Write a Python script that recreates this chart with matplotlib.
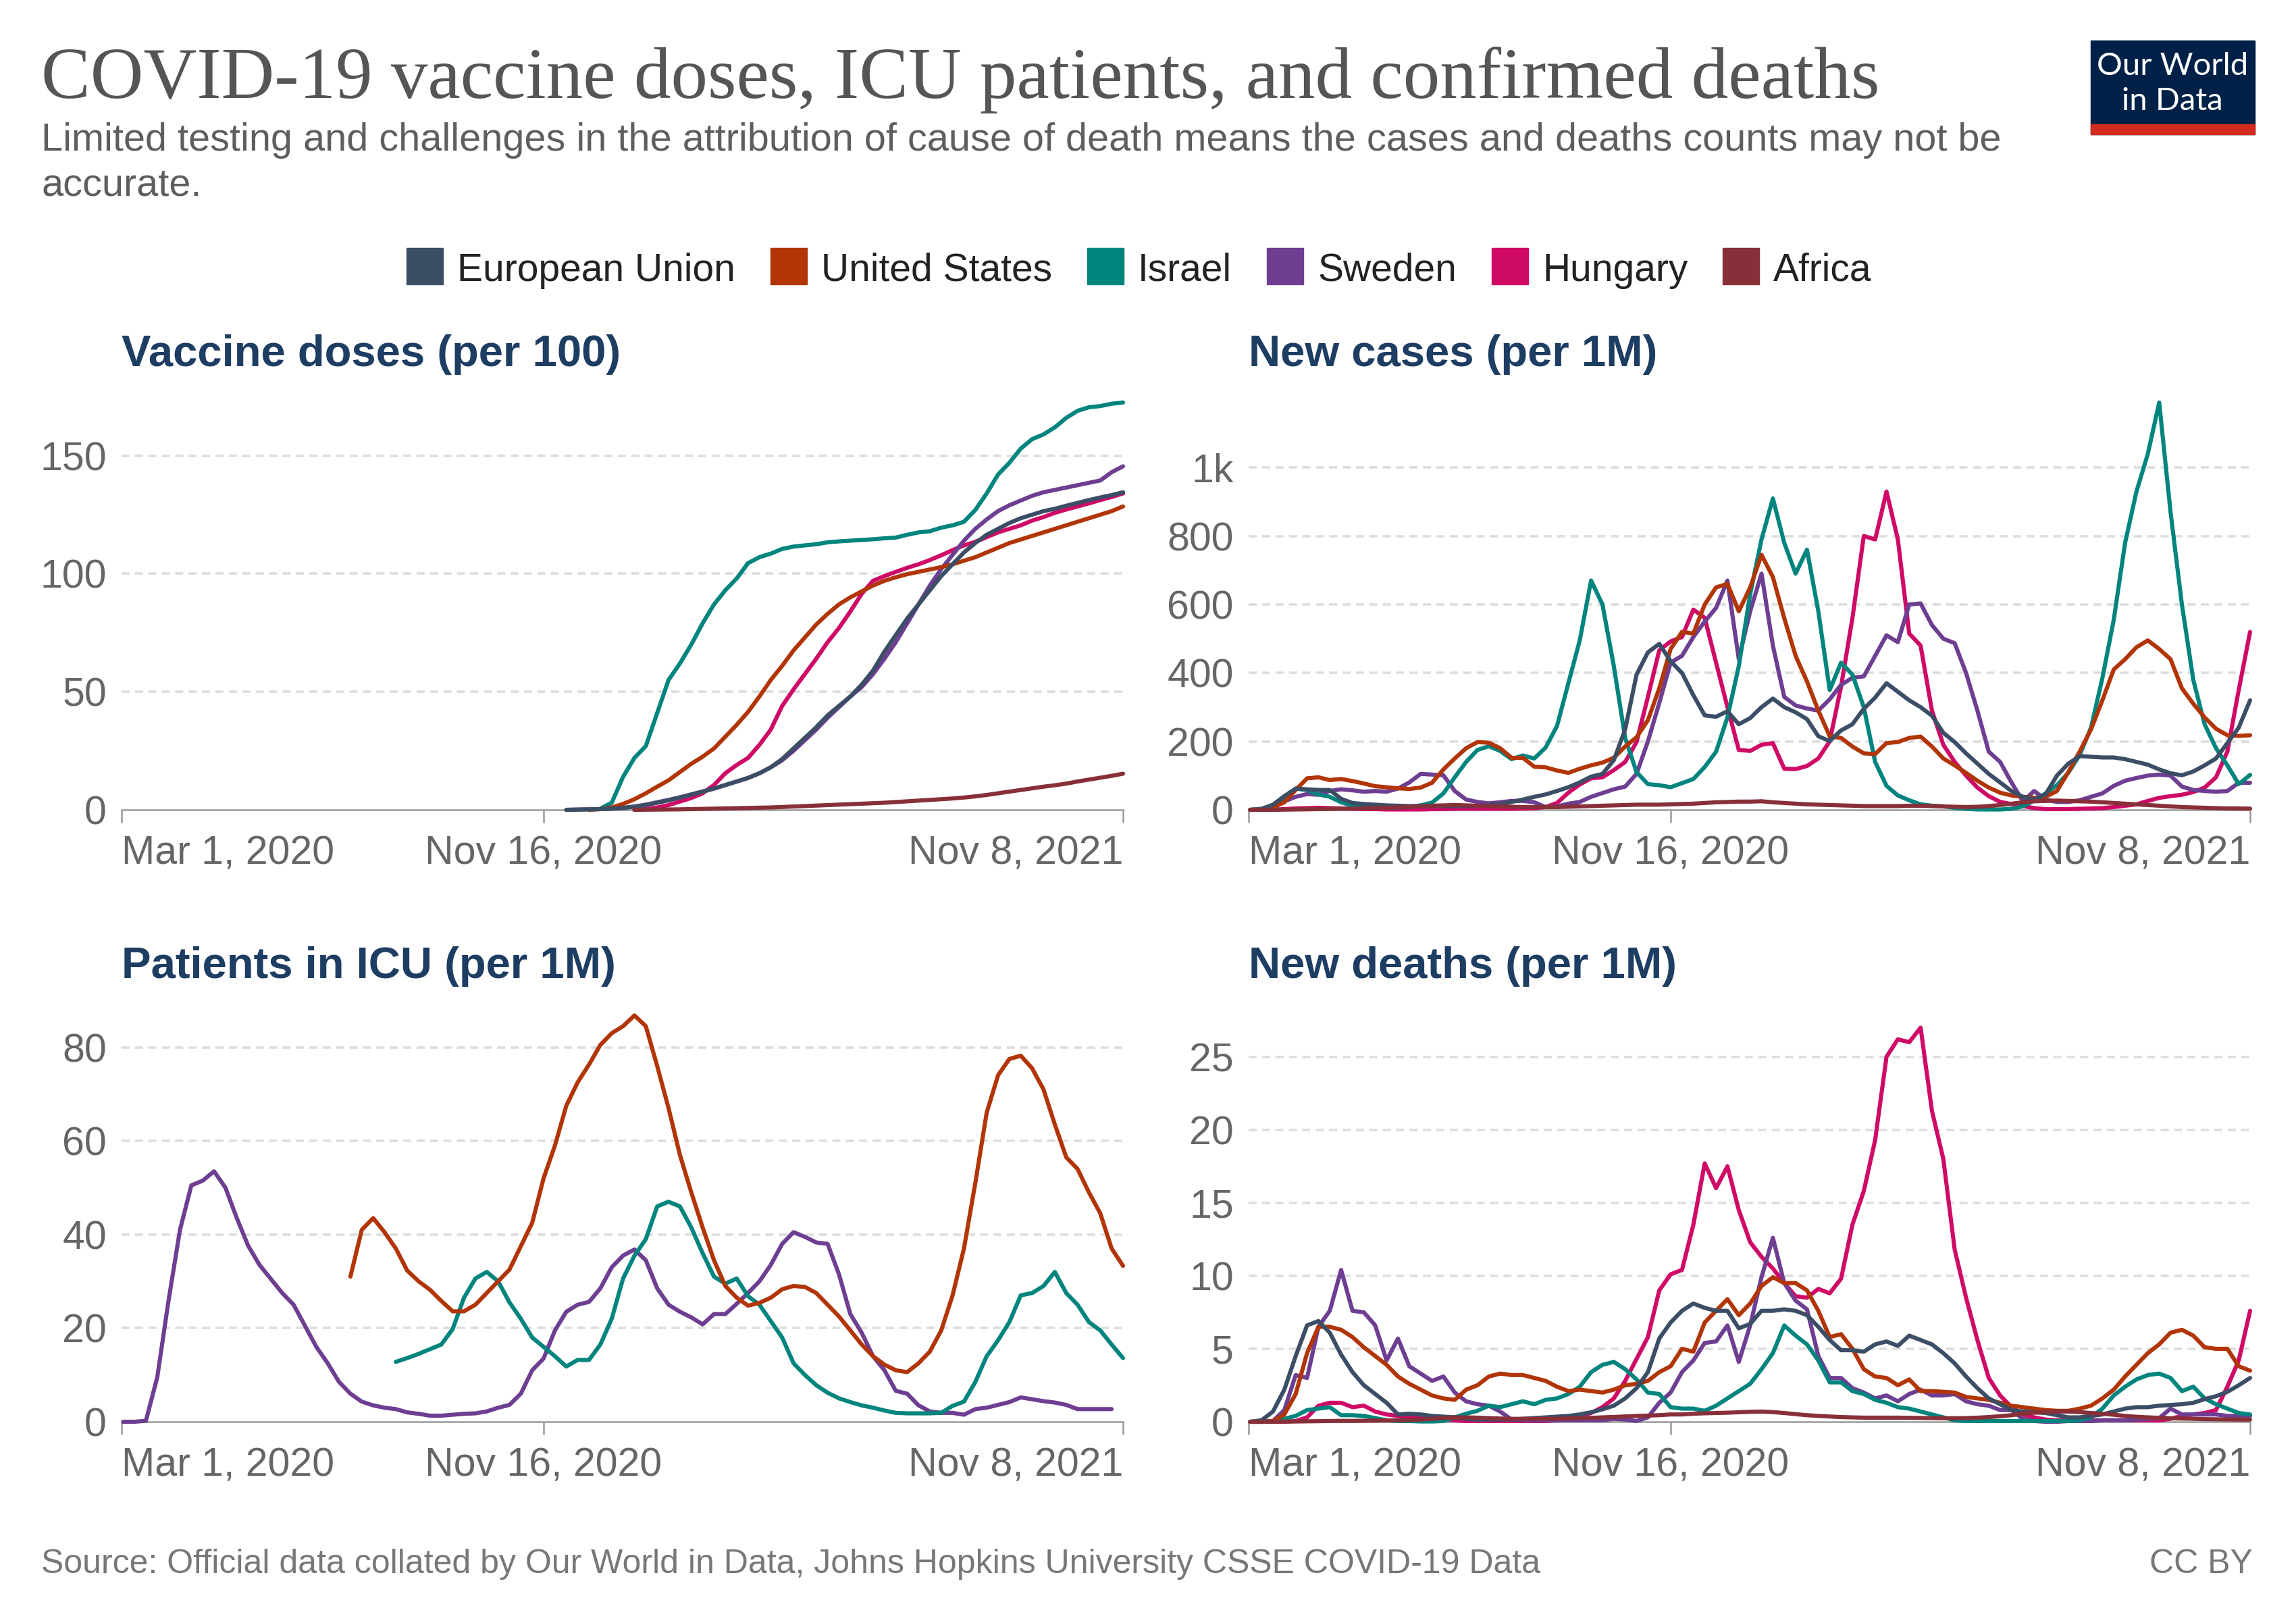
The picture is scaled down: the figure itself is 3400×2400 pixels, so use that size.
import numpy as np
import pandas as pd
import matplotlib
matplotlib.use('Agg')
import matplotlib.pyplot as plt
from matplotlib.patches import Rectangle

nan = np.nan

# ---- data (weekly samples) ----
countries = ['European Union', 'United States', 'Israel', 'Sweden', 'Hungary', 'Africa']
colors = ['#3c4e66', '#b13507', '#00847e', '#6d3e91', '#cf0a66', '#883039']

dates = pd.date_range(end='2021-11-08', periods=89, freq='7D')
vax_dates = pd.date_range(end='2021-11-08', periods=50, freq='7D')

tick_dates = ['2020-03-01', '2020-11-16', '2021-11-08']
tick_labels = ['Mar 1, 2020', 'Nov 16, 2020', 'Nov 8, 2021']

# Vaccine doses (per 100)
vax_eu = [0, 0.1, 0.2, 0.3, 0.5, 0.8, 1.3, 2, 3, 4,
          5.2, 6.5, 7.7, 9, 10.5, 12, 13.5, 15.5, 18, 21.5,
          26, 30.5, 35, 40, 44, 48, 53, 59, 67, 74,
          81, 87, 93, 99, 104, 109, 113, 116.5, 119, 121.5,
          123.5, 125, 126.5, 127.5, 128.8, 130, 131.2, 132.3, 133.3, 134.5]
vax_us = [nan, nan, 0, 0.3, 1, 2.5, 4.5, 7, 9.8, 12.5,
          16, 19.5, 22.5, 26, 31, 36, 41.5, 48, 55, 61,
          67.5, 73, 78.5, 83, 87, 90, 92.5, 95, 97, 98.5,
          99.8, 100.8, 101.8, 102.8, 104, 105.5, 107, 109, 111, 113,
          114.5, 116, 117.5, 119, 120.5, 122, 123.5, 125, 126.5, 128.5]
vax_il = [nan, nan, nan, 0.5, 3, 14, 22, 27, 41, 55,
          62, 70, 79, 87, 93, 98, 104.5, 107, 108.5, 110.5,
          111.5, 112, 112.5, 113.3, 113.7, 114, 114.3, 114.6, 115, 115.3,
          116.5, 117.5, 118, 119.5, 120.5, 122, 127, 134, 142, 147,
          153, 157, 159, 162, 166, 169, 170.5, 171, 172, 172.5]
vax_se = [0, 0.1, 0.2, 0.3, 0.5, 0.8, 1.4, 2.2, 3.2, 4.2,
          5.3, 6.5, 7.8, 9, 10.5, 12, 13.5, 15.5, 18, 21,
          25, 29.5, 34, 39, 43.5, 48, 52, 57.5, 64, 71,
          79, 87, 95, 102, 108, 114, 119, 123, 126.5, 129,
          131, 133, 134.5, 135.5, 136.5, 137.5, 138.5, 139.5, 143, 145.5]
vax_hu = [nan, nan, nan, nan, nan, nan, 0, 0.3, 1, 2,
          3.5, 5, 7, 10.5, 15.5, 19, 22, 27.5, 34, 44,
          51, 57.5, 64, 71, 77, 84, 91.5, 97, 99, 100.8,
          102.5, 104, 105.8, 107.8, 110, 112, 113.5, 115.5, 117.5, 119,
          120.5, 122.5, 124, 125.8, 127.2, 128.5, 129.8, 131.2, 132.5, 134]
vax_af = [nan, nan, nan, nan, nan, nan, 0, 0.05, 0.1, 0.15,
          0.2, 0.3, 0.4, 0.5, 0.6, 0.7, 0.8, 0.9, 1.0, 1.2,
          1.4, 1.6, 1.8, 2.0, 2.2, 2.4, 2.6, 2.8, 3.0, 3.3,
          3.6, 3.9, 4.2, 4.5, 4.8, 5.2, 5.7, 6.3, 7.0, 7.7,
          8.4, 9.1, 9.8, 10.4, 11.1, 12.0, 12.8, 13.6, 14.4, 15.3]

# New cases (per 1M)
cases_eu = [0, 3, 15, 40, 62, 60, 58, 58, 32, 20,
            17, 15, 13, 12, 11, 11, 11, 11, 11, 11,
            11, 13, 17, 23, 30, 38, 45, 55, 66, 80,
            97, 105, 145, 235, 395, 460, 485, 434, 400, 335,
            276, 272, 288, 250, 268, 300, 325, 300, 285, 265,
            215, 201, 232, 250, 295, 328, 370, 345, 320, 300,
            275, 225, 198, 165, 135, 105, 80, 55, 38, 30,
            45, 100, 135, 157, 155, 153, 153, 148, 140, 132,
            118, 107, 101, 112, 130, 150, 195, 240, 320]
cases_us = [0, 1, 8, 22, 58, 92, 95, 87, 90, 84,
            77, 69, 66, 63, 61, 65, 79, 118, 150, 180,
            198, 196, 180, 152, 152, 126, 124, 115, 108, 120,
            130, 138, 152, 185, 212, 262, 355, 470, 520, 515,
            600, 650, 660, 580, 650, 745, 680, 560, 450, 375,
            290, 215, 210, 185, 165, 163, 195, 198, 210, 214,
            185, 150, 130, 108, 85, 65, 50, 42, 38, 35,
            38, 55, 110, 170, 235, 320, 410, 440, 475, 495,
            470, 440, 355, 310, 270, 237, 218, 216, 218]
cases_il = [0, 1, 5, 30, 62, 58, 45, 38, 22, 12,
            8, 7, 7, 7, 9, 13, 21, 48, 95, 140,
            175, 186, 172, 148, 159, 150, 182, 245, 370, 495,
            670, 600, 420, 210, 110, 75, 72, 66, 78, 90,
            125, 170, 270, 420, 630, 790, 910, 780, 690, 760,
            580, 350, 430, 395, 300, 140, 70, 42, 28, 16,
            12, 10, 6, 3, 1, 1, 1, 3, 10, 27,
            48, 72, 108, 160, 240, 385, 555, 780, 930, 1040,
            1190, 870, 600, 380, 250, 180, 130, 75, 102]
cases_se = [0, 1, 5, 25, 38, 46, 44, 55, 60, 57,
            53, 55, 53, 62, 80, 105, 103, 101, 55, 30,
            23, 19, 22, 26, 26, 22, 8, 10, 18, 23,
            38, 49, 60, 68, 105, 200, 312, 430, 450, 505,
            550, 590, 670, 440, 580, 690, 480, 330, 305, 296,
            290, 323, 365, 386, 390, 450, 510, 490, 600, 603,
            540, 500, 487, 400, 290, 170, 140, 80, 25, 55,
            30, 23, 23, 28, 38, 48, 70, 85, 93, 100,
            103, 100, 68, 58, 55, 53, 55, 79, 79]
cases_hu = [0, 0, 0.5, 2, 4, 5, 6, 5, 4, 3,
            2, 2, 1, 1, 1, 1, 2, 2, 3, 3,
            3, 3, 3, 3, 4, 5, 8, 20, 50, 74,
            92, 95, 116, 140, 198, 330, 466, 492, 505, 585,
            561, 430, 300, 175, 172, 190, 195, 120, 119, 128,
            150, 200, 360, 560, 800, 790, 930, 790, 515, 480,
            290, 190, 140, 100, 65, 40, 23, 17, 11, 5,
            2, 2, 2, 3, 4, 5, 8, 12, 16, 26,
            35, 40, 44, 52, 65, 95, 170, 350, 520]
cases_af = [0, 0, 0.2, 0.5, 1, 1.5, 2, 2.5, 3, 3.5,
            4, 5, 6, 7.5, 9, 10, 12, 13, 14, 13,
            12, 11, 10, 9, 8, 8, 8, 8, 9, 10,
            11, 12, 13, 14, 15, 15, 15, 16, 17, 18,
            20, 22, 23, 24, 24, 25, 22, 20, 18, 16,
            15, 14, 13, 12, 11, 11, 11, 11, 12, 12,
            11, 10, 9, 8, 9, 11, 14, 18, 22, 25,
            26, 27, 26, 25, 24, 22, 20, 18, 16, 14,
            12, 10, 8, 7, 6, 5, 4, 4, 3.5]

# Patients in ICU (per 1M)
icu_us = [nan] * 20 + [
    31, 41, 43.5, 40.5, 37, 32.3, 30, 28.2, 25.8, 23.6,
    23.6, 25, 27.5, 30, 32.5, 37.5, 42.5, 52, 59, 67.5,
    72.5, 76.3, 80.5, 83, 84.5, 86.8, 84.5, 76, 67, 57,
    49, 41.5, 34.5, 29, 26.5, 24.8, 25.4, 26.5, 28.3, 29,
    28.8, 27.5, 25, 22.5, 19.5, 16.5, 14, 12.2, 11, 10.6,
    12.5, 15, 19.5, 27, 37, 51, 66, 74, 77.5, 78.2,
    75.5, 71, 63.5, 56.5, 54, 49, 44.5, 37, 33.3]
icu_il = [nan] * 24 + [
    12.8, 13.6, 14.5, 15.5, 16.5, 19.8, 26.5, 30.6, 32, 30,
    25.5, 22, 18, 16, 14, 11.8, 13.2, 13.2, 16.5, 22,
    30.6, 35.5, 39, 46, 47, 46, 41.5, 36, 31, 29.5,
    30.6, 26.8, 25, 21.5, 18, 12.5, 10, 7.8, 6.2, 5,
    4.2, 3.5, 3, 2.4, 1.9, 1.8, 1.8, 1.8, 1.9, 3.4,
    4.3, 8.5, 14, 17.4, 21.3, 27, 27.5, 29, 32, 27.5,
    25, 21.3, 19.5, 16.5, 13.6]
icu_se = [0, 0, 0.2, 9.5, 26, 41, 50.5, 51.5, 53.5, 50,
          43.5, 37.6, 33.5, 30.5, 27.5, 25, 20.5, 16, 12.5, 8.5,
          6, 4.3, 3.5, 3, 2.7, 2, 1.7, 1.3, 1.3, 1.5,
          1.7, 1.8, 2.2, 3, 3.6, 6, 11, 13.5, 19.5, 23.5,
          25, 25.6, 28.5, 33, 35.5, 36.8, 34.5, 28.5, 25, 23.5,
          22.3, 20.8, 23, 23, 25.2, 27.5, 30, 33.5, 38, 40.5,
          39.5, 38.3, 38, 31.5, 23, 19, 14, 11, 6.6, 6,
          3.5, 2.2, 1.9, 1.9, 1.5, 2.7, 3, 3.6, 4.2, 5.2,
          4.8, 4.4, 4.1, 3.6, 2.7, 2.7, 2.7, 2.7, nan]

# New deaths (per 1M)
deaths_eu = [0, 0.1, 0.7, 2.2, 4.5, 6.6, 6.9, 6.1, 4.6, 3.4,
             2.5, 1.9, 1.3, 0.5, 0.55, 0.5, 0.4, 0.35, 0.3, 0.2,
             0.15, 0.15, 0.15, 0.15, 0.2, 0.25, 0.3, 0.35, 0.4, 0.5,
             0.65, 0.85, 1.1, 1.6, 2.3, 3.4, 5.7, 6.8, 7.6, 8.1,
             7.8, 7.6, 7.6, 6.4, 6.7, 7.6, 7.6, 7.7, 7.6, 7.3,
             6.5, 5.6, 4.9, 4.9, 4.8, 5.3, 5.5, 5.2, 5.9, 5.6,
             5.3, 4.7, 4.0, 3.1, 2.3, 1.6, 1.2, 0.8, 0.7, 0.65,
             0.6, 0.45, 0.3, 0.3, 0.4, 0.5, 0.7, 0.9, 1.0, 1.0,
             1.1, 1.15, 1.2, 1.3, 1.55, 1.75, 2.05, 2.5, 3.0]
deaths_us = [0, 0, 0.05, 0.5, 1.9, 4.7, 6.5, 6.5, 6.3, 5.8,
             5.1, 4.5, 3.9, 3.1, 2.6, 2.2, 1.8, 1.6, 1.5, 2.2,
             2.5, 3.1, 3.3, 3.2, 3.2, 3.0, 2.8, 2.4, 2.1, 2.2,
             2.1, 2.0, 2.2, 2.5, 2.6, 2.8, 3.4, 3.8, 5.0, 4.8,
             6.8, 7.6, 8.4, 7.3, 8.1, 9.3, 9.9, 9.5, 9.5, 9.0,
             7.6, 5.8, 6.0, 5.0, 3.6, 3.1, 3.0, 2.5, 2.9, 2.1,
             2.1, 2.05, 2.0, 1.7, 1.6, 1.5, 1.3, 1.1, 1.0, 0.9,
             0.8, 0.75, 0.75, 0.9, 1.1, 1.6, 2.2, 3.1, 3.9, 4.7,
             5.3, 6.1, 6.3, 5.9, 5.1, 5.0, 5.0, 3.8, 3.5]
deaths_il = [0, 0, 0, 0.2, 0.4, 0.8, 0.9, 1.0, 0.45, 0.45,
             0.4, 0.25, 0.1, 0.05, 0.05, 0.02, 0.02, 0.05, 0.3, 0.55,
             0.75, 1.1, 1.0, 1.2, 1.4, 1.2, 1.5, 1.6, 1.9, 2.4,
             3.4, 3.9, 4.1, 3.6, 2.9, 2.0, 1.9, 1.0, 0.9, 0.9,
             0.75, 1.1, 1.6, 2.1, 2.6, 3.6, 4.7, 6.6, 5.9, 5.3,
             4.2, 2.7, 2.7, 2.1, 1.9, 1.5, 1.3, 1.0, 0.9, 0.7,
             0.5, 0.3, 0.1, 0.05, 0.05, 0.05, 0.05, 0.05, 0.05, 0.05,
             0.05, 0.05, 0.05, 0.1, 0.3, 0.9, 1.8, 2.4, 2.9, 3.2,
             3.3, 3.0, 2.1, 2.4, 1.6, 1.2, 0.9, 0.6, 0.5]
deaths_se = [0, 0, 0.05, 0.8, 3.2, 3.0, 6.5, 7.6, 10.4, 7.6,
             7.5, 6.6, 4.2, 5.7, 3.8, 3.3, 2.8, 3.1, 2.0, 1.4,
             1.2, 1.1, 0.7, 0.15, 0.1, 0.1, 0.1, 0.1, 0.1, 0.1,
             0.1, 0.1, 0.2, 0.15, 0.05, 0.3, 1.3, 2.0, 3.4, 4.2,
             5.4, 5.5, 6.6, 4.1, 6.6, 9.9, 12.6, 9.5, 8.3, 7.7,
             4.5, 3.0, 3.0, 2.3, 2.0, 1.6, 1.8, 1.4, 1.9, 2.2,
             1.8, 1.8, 1.9, 1.4, 1.2, 1.1, 0.8, 0.8, 0.2, 0.05,
             0.0, 0.0, 0.05, 0.05, 0.05, 0.1, 0.1, 0.1, 0.15, 0.2,
             0.25, 0.9, 0.5, 0.5, 0.5, 0.5, 0.4, 0.4, 0.4]
deaths_hu = [0, 0, 0, 0, 0.05, 0.3, 1.1, 1.3, 1.3, 1.0,
             1.1, 0.7, 0.5, 0.4, 0.35, 0.25, 0.25, 0.2, 0.1, 0.05,
             0.05, 0.05, 0.05, 0.05, 0.05, 0.05, 0.05, 0.1, 0.25, 0.4,
             0.6, 1.0, 1.6, 2.8, 4.3, 5.8, 9.0, 10.1, 10.4, 13.5,
             17.7, 16.0, 17.5, 14.5, 12.3, 11.3, 10.5, 9.5, 8.6, 8.5,
             9.1, 8.8, 9.8, 13.5, 15.8, 19.3, 25.0, 26.2, 26.0, 27.0,
             21.3, 18.0, 11.8, 8.5, 5.6, 3.0, 1.8, 1.0, 0.5, 0.3,
             0.15, 0.1, 0.1, 0.1, 0.1, 0.1, 0.1, 0.1, 0.1, 0.1,
             0.1, 0.2, 0.4, 0.5, 0.6, 0.8, 2.4, 4.2, 7.6]
deaths_af = [0, 0, 0, 0.01, 0.02, 0.03, 0.04, 0.05, 0.06, 0.06,
             0.07, 0.08, 0.09, 0.1, 0.12, 0.15, 0.2, 0.25, 0.3, 0.3,
             0.28, 0.25, 0.22, 0.2, 0.2, 0.2, 0.2, 0.2, 0.22, 0.25,
             0.27, 0.3, 0.33, 0.36, 0.4, 0.42, 0.45, 0.5, 0.5, 0.55,
             0.58, 0.6, 0.62, 0.65, 0.68, 0.7, 0.66, 0.6, 0.52, 0.45,
             0.4, 0.36, 0.32, 0.3, 0.28, 0.28, 0.28, 0.28, 0.27, 0.26,
             0.25, 0.24, 0.24, 0.25, 0.28, 0.32, 0.38, 0.45, 0.55, 0.62,
             0.68, 0.7, 0.7, 0.66, 0.6, 0.55, 0.48, 0.4, 0.34, 0.3,
             0.27, 0.24, 0.22, 0.2, 0.18, 0.17, 0.16, 0.15, 0.15]

# ---- figure ----
plt.rcParams['font.family'] = ['Liberation Sans', 'DejaVu Sans']
W, H = 3400, 2400
fig = plt.figure(figsize=(W / 100, H / 100), dpi=100)
fig.patch.set_facecolor('white')


def fx(px):
    return px / W


def fy(py):
    return 1 - py / H


grid_kw = dict(color='#dddddd', lw=2.6, linestyle=(0, (3.3, 2.2)), zorder=1)
draw_order = [4, 3, 2, 1, 0, 5]  # EU and Africa end up on top


def panel(rect, title, x, series, yticks, ylabels, ymax, title_y):
    ax = fig.add_axes(rect)
    for i in draw_order:
        if series[i] is None:
            continue
        ax.plot(x, series[i], color=colors[i], lw=4.4, clip_on=False,
                solid_joinstyle='round', solid_capstyle='round', zorder=3)
    ax.set_xlim(np.datetime64('2020-03-01'), np.datetime64('2021-11-08'))
    ax.set_ylim(0, ymax)
    for t in yticks[1:]:
        ax.axhline(t, **grid_kw)
    ax.set_yticks(yticks)
    ax.set_yticklabels(ylabels)
    ax.set_xticks([np.datetime64(d) for d in tick_dates])
    ax.set_xticklabels(tick_labels)
    labs = ax.get_xticklabels()
    labs[0].set_ha('left')
    labs[-1].set_ha('right')
    for s in ['top', 'right', 'left']:
        ax.spines[s].set_visible(False)
    ax.spines['bottom'].set_color('#9a9a9a')
    ax.spines['bottom'].set_linewidth(1.8)
    ax.spines['bottom'].set_zorder(2)
    ax.tick_params(axis='y', length=0, pad=16, labelsize=42.5, labelcolor='#666666')
    ax.tick_params(axis='x', length=14, width=1.8, color='#9a9a9a', pad=13,
                   labelsize=42.5, labelcolor='#666666')
    ax.set_facecolor('none')
    fig.text(rect[0], fy(title_y), title, fontsize=47, fontweight='bold',
             color='#1d3d63', va='baseline', ha='left')
    return ax


col_l, col_r = fx(180), fx(1849)
aw = 1483 / W
ah = 603 / H
row_t, row_b = fy(1199), fy(2105)

panel([col_l, row_t, aw, ah], 'Vaccine doses (per 100)', vax_dates,
      [vax_eu, vax_us, vax_il, vax_se, vax_hu, vax_af],
      [0, 50, 100, 150], ['0', '50', '100', '150'], 172.5, 542)
panel([col_r, row_t, aw, ah], 'New cases (per 1M)', dates,
      [cases_eu, cases_us, cases_il, cases_se, cases_hu, cases_af],
      [0, 200, 400, 600, 800, 1000], ['0', '200', '400', '600', '800', '1k'], 1190, 542)
panel([col_l, row_b, aw, ah], 'Patients in ICU (per 1M)', dates,
      [None, icu_us, icu_il, icu_se, None, None],
      [0, 20, 40, 60, 80], ['0', '20', '40', '60', '80'], 87, 1448)
panel([col_r, row_b, aw, ah], 'New deaths (per 1M)', dates,
      [deaths_eu, deaths_us, deaths_il, deaths_se, deaths_hu, deaths_af],
      [0, 5, 10, 15, 20, 25], ['0', '5', '10', '15', '20', '25'], 27.9, 1448)

# header
fig.text(fx(61), fy(145), 'COVID-19 vaccine doses, ICU patients, and confirmed deaths',
         family=['Liberation Serif', 'DejaVu Serif'], fontsize=78.5, color='#555555',
         va='baseline', ha='left')
sub_lines = ['Limited testing and challenges in the attribution of cause of death means '
             'the cases and deaths counts may not be', 'accurate.']
fig.text(fx(61), fy(223), sub_lines[0], fontsize=41.5, color='#5e5e5e', va='baseline')
fig.text(fx(61), fy(290), sub_lines[1], fontsize=41.5, color='#5e5e5e', va='baseline')

# legend row, laid out from measured text widths
fig.canvas.draw()
renderer = fig.canvas.get_renderer()
sq, gap_txt, gap_item = 54, 21, 52
texts, widths = [], []
for name in countries:
    t = fig.text(0, 0, name, fontsize=41, color='#222222', va='baseline')
    texts.append(t)
    widths.append(t.get_window_extent(renderer).width)
total = sum(sq + gap_txt + w for w in widths) + gap_item * (len(countries) - 1)
xpos = 1687 - total / 2
for name, t, w, c in zip(countries, texts, widths, colors):
    fig.patches.append(Rectangle((fx(xpos), fy(421)), sq / W, sq / H, color=c,
                                 transform=fig.transFigure, figure=fig))
    t.set_position((fx(xpos + sq + gap_txt), fy(416)))
    xpos += sq + gap_txt + w + gap_item

# logo
fig.patches.append(Rectangle((fx(3096), fy(199)), 243 / W, 139 / H, color='#002147',
                             transform=fig.transFigure, figure=fig))
fig.patches.append(Rectangle((fx(3096), fy(199)), 243 / W, 15 / H, color='#d42b21',
                             transform=fig.transFigure, figure=fig))
fig.text(fx(3217), fy(98), 'Our World', family=['Lato', 'DejaVu Sans'], fontsize=34,
         color='white', ha='center', va='center')
fig.text(fx(3217), fy(150), 'in Data', family=['Lato', 'DejaVu Sans'], fontsize=34,
         color='white', ha='center', va='center')

# footer
fig.text(fx(61), fy(2329), 'Source: Official data collated by Our World in Data, '
         'Johns Hopkins University CSSE COVID-19 Data', fontsize=36, color='#777777',
         va='baseline')
fig.text(fx(3336), fy(2329), 'CC BY', fontsize=36, color='#777777', va='baseline', ha='right')

fig.savefig('out.png', dpi=100, facecolor='white')
